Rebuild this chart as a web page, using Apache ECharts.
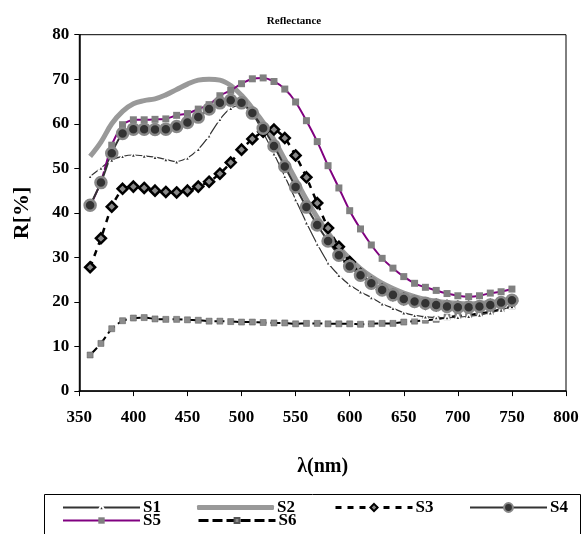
<!DOCTYPE html>
<html>
<head>
<meta charset="utf-8">
<script src="https://cdn.jsdelivr.net/npm/echarts@6/dist/echarts.min.js"></script>
<style>html,body{margin:0;padding:0;background:#fff}#c{width:582px;height:534px}</style>
</head>
<body>
<div id="c"></div>
<script>
var wavelengths = [360,370,380,390,400,410,420,430,440,450,460,470,480,490,500,510,520,530,540,550,560,570,580,590,600,610,620,630,640,650,660,670,680,690,700,710,720,730,740,750];
var xTicks = [350,400,450,500,550,600,650,700,750,800];
var yTicks = [0,10,20,30,40,50,60,70,80];
var S1 = [48.2,50.1,51.9,52.7,53.0,52.8,52.5,52.0,51.5,52.3,54.3,57.3,61.0,63.5,64.3,62.3,58.0,53.3,48.2,43.0,37.8,33.0,28.8,26.0,23.8,22.3,21.0,19.6,18.6,17.6,17.0,16.7,16.5,16.5,16.6,16.8,17.1,17.6,18.2,19.0];
var S2 = [52.7,55.9,60.0,62.8,64.5,65.2,65.6,66.5,67.7,68.9,69.8,70.0,69.8,68.6,66.4,63.5,60.3,56.4,52.0,47.5,43.0,39.0,35.5,32.3,29.7,27.5,25.7,24.2,23.0,22.0,21.2,20.6,20.2,19.9,19.7,19.6,19.7,19.9,20.2,20.6];
var S3 = [27.8,34.3,41.4,45.4,45.9,45.6,45.0,44.7,44.6,45.0,45.9,47.0,48.8,51.3,54.2,56.6,58.2,58.7,56.8,52.9,48.0,42.2,36.6,32.4,29.0,26.3,24.3,22.8,21.6,20.7,20.1,19.6,19.3,19.1,18.9,18.9,19.0,19.3,19.8,20.2];
var S4 = [41.7,46.8,53.4,57.8,58.8,58.8,58.7,58.8,59.4,60.3,61.5,63.3,64.7,65.3,64.7,62.4,59.0,55.0,50.4,45.8,41.3,37.3,33.7,30.5,28.0,26.0,24.2,22.7,21.6,20.7,20.1,19.7,19.3,19.0,18.8,18.8,19.0,19.3,19.9,20.4];
var S5 = [41.5,47.0,55.2,59.8,60.9,60.9,61.0,61.1,61.9,62.3,63.3,64.3,66.3,67.5,69.0,70.1,70.3,69.5,67.8,64.9,60.7,56.0,50.6,45.6,40.5,36.4,32.8,29.8,27.6,25.7,24.2,23.3,22.6,21.9,21.4,21.2,21.4,22.0,22.3,22.9];
var S6 = [8.1,10.7,14.0,15.8,16.4,16.5,16.2,16.1,16.1,16.0,15.9,15.7,15.7,15.6,15.5,15.5,15.4,15.3,15.3,15.1,15.2,15.2,15.1,15.1,15.1,15.0,15.1,15.2,15.2,15.5,15.7,15.9,16.1,16.6,16.9,17.1,17.5,17.8,18.4,19.0];

function pairs(arr){ return wavelengths.map(function(w,i){ return [w, arr[i]]; }); }

var FONT = '"Liberation Serif","Times New Roman",serif';

var chart = echarts.init(document.getElementById('c'), null, {renderer:'canvas'});

function leg(name, left, top, h, extra){
  var o = {
    data:[name], left:left, top:top, padding:0, itemGap:0,
    itemWidth:77, itemHeight:h,
    textStyle:{fontFamily:FONT, fontWeight:'bold', fontSize:17, color:'#000', padding:[0,0,0,-2]}
  };
  if (extra) { for (var k in extra) o[k] = extra[k]; }
  return o;
}

var option = {
  animation:false,
  backgroundColor:'#fff',
  title:{
    text:'Reflectance', left:294, top:16, textAlign:'center', padding:0,
    textStyle:{fontFamily:FONT, fontWeight:'bold', fontSize:11, color:'#000'}
  },
  grid:{left:79.3, right:16, top:34.7, bottom:142.9, show:true, borderColor:'#000', borderWidth:1, backgroundColor:'transparent'},
  xAxis:{
    type:'value', min:xTicks[0], max:xTicks[xTicks.length-1], interval:50,
    name:'λ(nm)', nameLocation:'middle', nameGap:66,
    nameTextStyle:{fontFamily:FONT, fontWeight:'bold', fontSize:20, color:'#000'},
    axisLine:{lineStyle:{color:'#000', width:1.5}},
    axisTick:{length:5, lineStyle:{color:'#000', width:1}},
    axisLabel:{fontFamily:FONT, fontWeight:'bold', fontSize:17, color:'#000', margin:18},
    splitLine:{show:false}
  },
  yAxis:{
    type:'value', min:yTicks[0], max:yTicks[yTicks.length-1], interval:10,
    name:'R[%]', nameLocation:'middle', nameGap:46,
    nameTextStyle:{fontFamily:FONT, fontWeight:'bold', fontSize:22, color:'#000'},
    axisLine:{show:true, lineStyle:{color:'#000', width:1.5}},
    axisTick:{show:true, length:5, lineStyle:{color:'#000', width:1}},
    axisLabel:{fontFamily:FONT, fontWeight:'bold', fontSize:17, color:'#000', margin:10},
    splitLine:{show:false}
  },
  legend:[
    leg('S1', 62, 499, 7, {lineStyle:{width:2}}),
    leg('S2', 197, 499, 5, {data:[{name:'S2', icon:'roundRect'}]}),
    leg('S3', 334, 499, 9, {lineStyle:{width:3}}),
    leg('S4', 469, 499, 11, {lineStyle:{width:2}}),
    leg('S5', 62, 512, 8, {lineStyle:{width:2}}),
    leg('S6', 197, 512, 6, {lineStyle:{width:3}})
  ],
  graphic:[{
    type:'rect', shape:{x:44.5, y:494.5, width:536, height:50},
    style:{fill:'none', stroke:'#000', lineWidth:1}, z:-1
  }],
  series:[
    {name:'S6', type:'line', data:pairs(S6), smooth:0.2,
     symbol:'rect', symbolSize:6,
     lineStyle:{color:'#000', width:2, type:[10,4]},
     itemStyle:{color:'#8c8c8c', borderColor:'#555', borderWidth:0.5}},
    {name:'S2', type:'line', data:pairs(S2), smooth:0.4, showSymbol:false, symbol:'none',
     lineStyle:{color:'#999999', width:5},
     itemStyle:{color:'#999999'}},
    {name:'S1', type:'line', data:pairs(S1), smooth:0.2,
     symbol:'triangle', symbolSize:5,
     lineStyle:{color:'#333', width:1.2},
     itemStyle:{color:'#333', borderColor:'#fff', borderWidth:1.5}},
    {name:'S3', type:'line', data:pairs(S3), smooth:0.2,
     symbol:'diamond', symbolSize:10,
     lineStyle:{color:'#000', width:2.5, type:[6,6]},
     itemStyle:{color:'#888', borderColor:'#000', borderWidth:2.5}},
    {name:'S5', type:'line', data:pairs(S5), smooth:0.2,
     symbol:'rect', symbolSize:7,
     lineStyle:{color:'#800080', width:2},
     itemStyle:{color:'#808080', borderColor:'#808080', borderWidth:0}},
    {name:'S4', type:'line', data:pairs(S4), smooth:0.2,
     symbol:'circle', symbolSize:11,
     lineStyle:{color:'#333', width:2},
     itemStyle:{color:'#333', borderColor:'#888', borderWidth:2.5}}
  ]
};
chart.setOption(option);
</script>
</body>
</html>
